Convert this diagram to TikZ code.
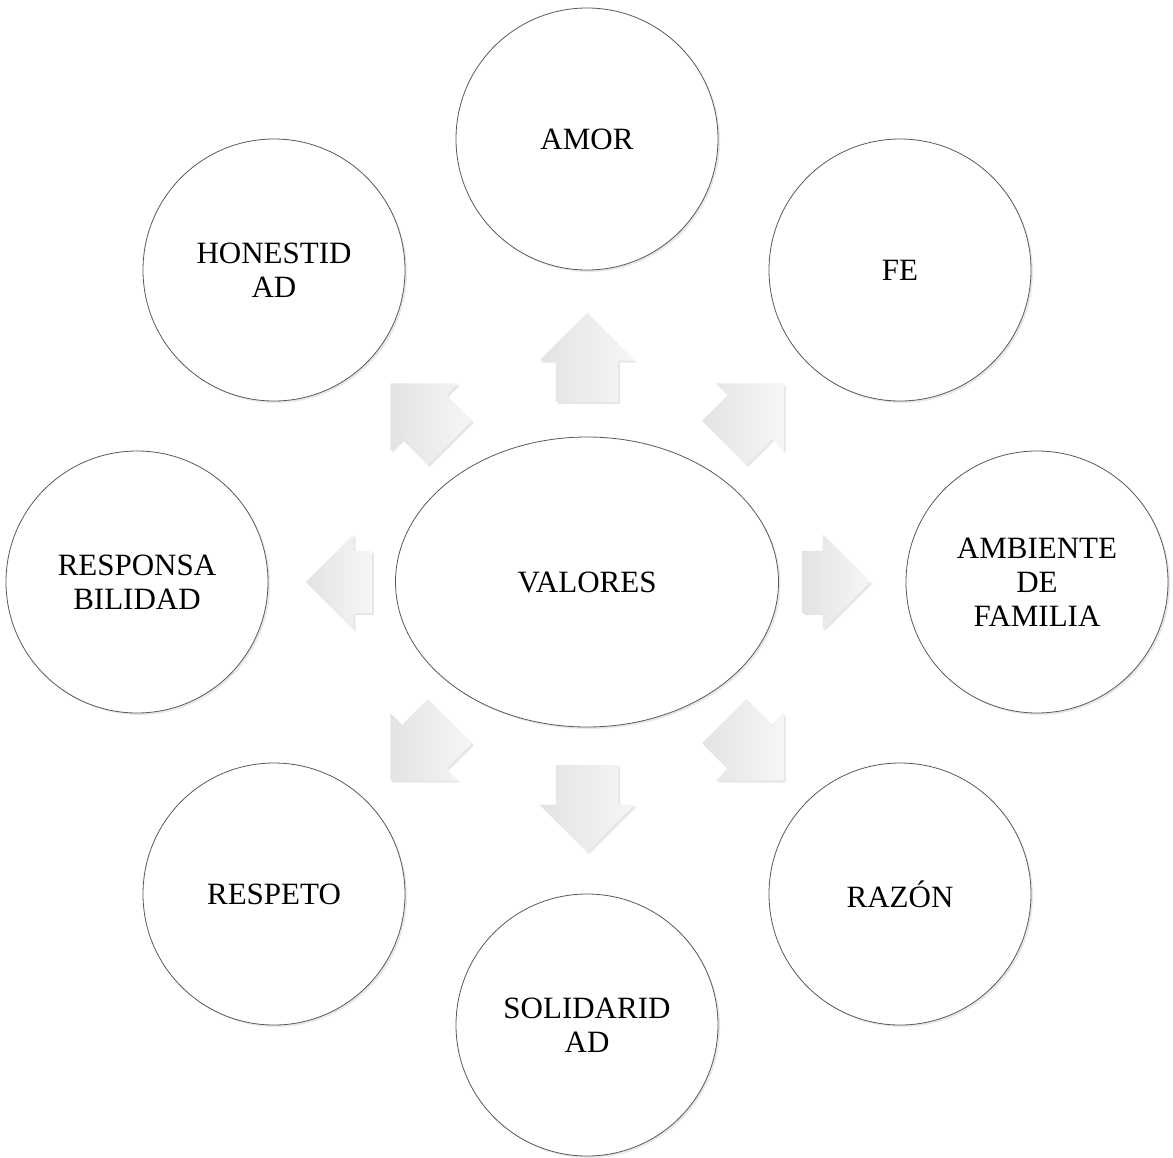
\documentclass[tikz,border=0pt]{standalone}
\usepackage{fontspec}
\setmainfont{Liberation Serif}
\usepackage{tikz}
\usetikzlibrary{positioning, shapes.geometric, shapes.arrows, shadows}
\tikzstyle{value} = [circle, draw=gray!70!black, line width=0.8pt, fill=white,
  minimum size=262pt, inner sep=0pt, align=center,
  drop shadow={opacity=0.18, shadow xshift=2pt, shadow yshift=-2pt},
  font=\fontsize{31}{34}\selectfont]
\tikzstyle{hub} = [ellipse, draw=gray!70!black, line width=0.8pt, fill=white,
  minimum width=383pt, minimum height=290pt, inner sep=0pt,
  drop shadow={opacity=0.18, shadow xshift=2pt, shadow yshift=-2pt},
  font=\fontsize{31}{34}\selectfont]
\tikzstyle{outarrow} = [single arrow, draw=none, left color=gray!22, right color=gray!7,
  inner xsep=0pt, inner ysep=31pt, single arrow head extend=16.5pt,
  single arrow tip angle=90, anchor=tail,
  drop shadow={opacity=0.2, shadow xshift=2pt, shadow yshift=-2pt}]

\begin{document}
\begin{tikzpicture}[x=1pt, y=-1pt]
    \useasboundingbox (0,0) rectangle (1173,1157);
    % centre
    \node[hub] (val) at (587,582) {VALORES};
    % arrows pointing out of the centre
    \node[outarrow, rotate=90, minimum height=89pt] (a1) at (587,402) {};
    \node[outarrow, rotate=45, minimum height=84pt] (a2) at (724,443) {};
    \node[outarrow, rotate=0, minimum height=68pt] (a3) at (802,582) {};
    \node[outarrow, rotate=-45, minimum height=84pt] (a4) at (724,721) {};
    \node[outarrow, rotate=-90, minimum height=87pt] (a5) at (587,765) {};
    \node[outarrow, rotate=-135, minimum height=84pt] (a6) at (450,721) {};
    \node[outarrow, rotate=180, minimum height=66pt] (a7) at (372,582) {};
    \node[outarrow, rotate=135, minimum height=84pt] (a8) at (450,443) {};
    % the values
    \node[value] (amor) at (587,139) {AMOR};
    \node[value] (fe) at (900,270) {FE};
    \node[value] (amb) at (1037,582) {AMBIENTE\\DE\\FAMILIA};
    \node[value] (raz) at (900,894) {RAZÓN};
    \node[value] (sol) at (587,1025) {SOLIDARID\\AD};
    \node[value] (resp) at (274,894) {RESPETO};
    \node[value] (resb) at (137,582) {RESPONSA\\BILIDAD};
    \node[value] (hon) at (274,270) {HONESTID\\AD};
\end{tikzpicture}
\end{document}
